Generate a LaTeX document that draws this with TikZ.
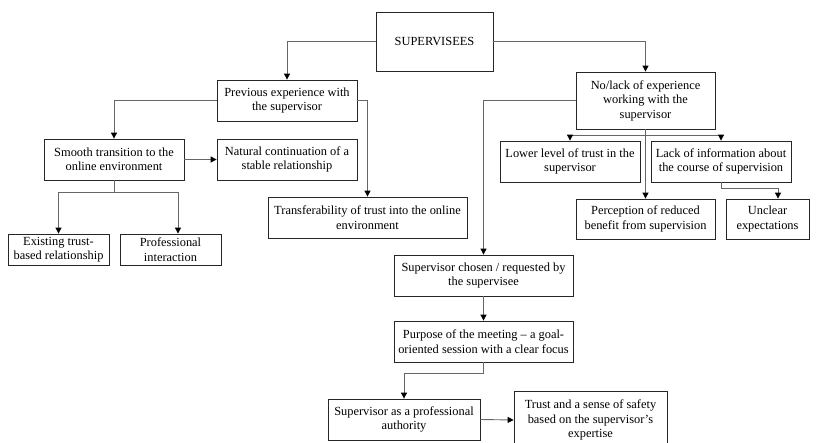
\documentclass[tikz,border=0pt]{standalone}
\usepackage{fontspec}
\setmainfont{Liberation Serif}
\usetikzlibrary{arrows.meta}
\begin{document}
\begin{tikzpicture}[x=1pt,y=-1pt,
  box/.style={draw=black!85, line width=0.8pt, fill=white, align=center, inner sep=0pt,
    font=\fontsize{12.4}{14.5}\selectfont},
  conn/.style={draw=black!60, line width=0.9pt,
    -{Triangle[length=6pt,width=6pt,color=black]}},
  plain/.style={draw=black!60, line width=0.9pt}]
\useasboundingbox (0,0) rectangle (819,443);
% nodes
\node[box, minimum width=117pt, minimum height=59pt] (sup) at (434.5,41.5) {SUPERVISEES};
\node[box, minimum width=140pt, minimum height=41pt] (prev) at (287,100.5) {Previous experience with\\the supervisor};
\node[box, minimum width=139pt, minimum height=57pt] (nolack) at (645.5,100.5) {No/lack of experience\\working with the\\supervisor};
\node[box, minimum width=140pt, minimum height=41pt] (smooth) at (114,159.5) {Smooth transition to the\\online environment};
\node[box, minimum width=140pt, minimum height=41pt] (natural) at (287,159.5) {Natural continuation of a\\stable relationship};
\node[box, minimum width=101pt, minimum height=31pt] (existing) at (58.5,249.5) {Existing trust-\\based relationship};
\node[box, minimum width=101pt, minimum height=31pt] (prof) at (170.5,249.5) {Professional\\interaction};
\node[box, minimum width=199pt, minimum height=41pt] (transf) at (367.5,217.5) {Transferability of trust into the online\\environment};
\node[box, minimum width=140pt, minimum height=41pt] (lower) at (570,161.5) {Lower level of trust in the\\supervisor};
\node[box, minimum width=140pt, minimum height=41pt] (lack) at (721,161.5) {Lack of information about\\the course of supervision};
\node[box, minimum width=139pt, minimum height=40pt] (perc) at (645.5,219) {Perception of reduced\\benefit from supervision};
\node[box, minimum width=83pt, minimum height=40pt] (unclear) at (767.5,219) {Unclear\\expectations};
\node[box, minimum width=179pt, minimum height=41pt] (chosen) at (483.5,275.5) {Supervisor chosen / requested by\\the supervisee};
\node[box, minimum width=179pt, minimum height=41pt] (purpose) at (483.5,341.5) {Purpose of the meeting – a goal-\\oriented session with a clear focus};
\node[box, minimum width=152pt, minimum height=41pt] (auth) at (404,419.5) {Supervisor as a professional\\authority};
\node[box, minimum width=153pt, minimum height=58pt] (trust) at (590.5,420) {Trust and a sense of safety\\based on the supervisor’s\\expertise};
% connectors
\draw[conn] (sup.west) -| (prev.north);
\draw[conn] (sup.east) -| (nolack.north);
\draw[conn] (prev.west) -| (smooth.north);
\draw[conn] (prev.east) -| (transf.north);
\draw[conn] (smooth.east) -- (natural.west);
\coordinate (sb) at ([yshift=-12pt]smooth.south);
\draw[plain] (smooth.south) -- (sb);
\draw[conn] (sb) -| (existing.north);
\draw[conn] (sb) -| ([xshift=7.5pt]prof.north);
\draw[conn] (nolack.west) -| (chosen.north);
\draw[conn] (nolack.south) -- (perc.north);
\coordinate (nb) at ([yshift=-6pt]nolack.south);
\draw[conn] (nb) -| (lower.north);
\draw[conn] (nb) -| (lack.north);
\coordinate (lb) at ([yshift=-6pt]lack.south);
\draw[plain] (lack.south) -- (lb);
\draw[conn] (lb) -| ([xshift=10.5pt]unclear.north);
\draw[conn] (chosen.south) -- (purpose.north);
\coordinate (pb) at ([yshift=-11pt]purpose.south);
\draw[plain] (purpose.south) -- (pb);
\draw[conn] (pb) -| (auth.north);
\draw[conn] (auth.east) -- (trust.west);
\end{tikzpicture}
\end{document}
